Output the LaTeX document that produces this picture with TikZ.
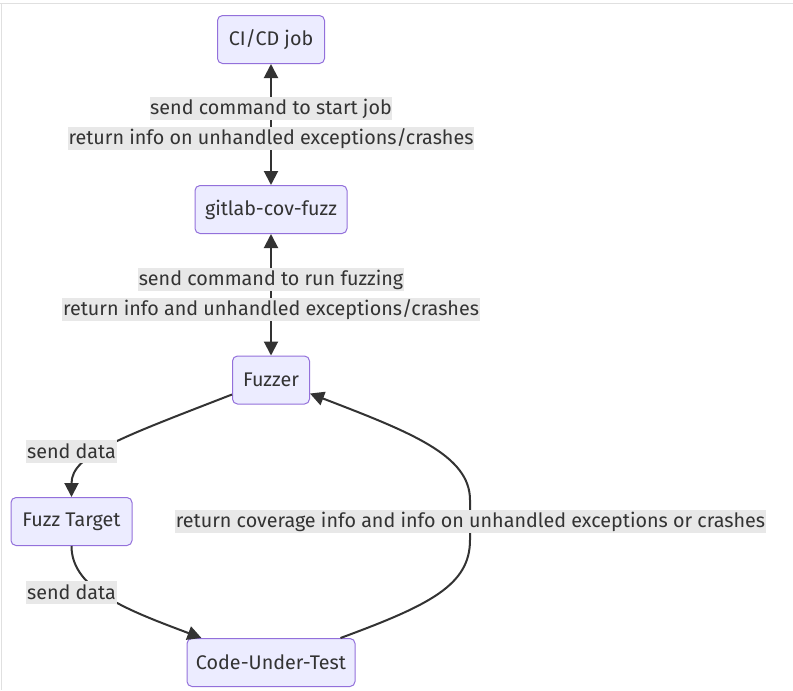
\documentclass[tikz,border=0pt]{standalone}
\usepackage{fontspec}
\setmainfont{Fira Sans}
\usetikzlibrary{arrows.meta,calc}
\definecolor{nodefill}{HTML}{ECECFF}
\definecolor{nodedraw}{HTML}{9370DB}
\definecolor{ink}{HTML}{333333}
\definecolor{lblbg}{HTML}{E8E8E8}
\definecolor{framecol}{HTML}{E0E0E0}
\begin{document}
\begin{tikzpicture}[x=0.75pt,y=-0.75pt,
  box/.style={draw=nodedraw, fill=nodefill, line width=0.75pt, rounded corners=3.75pt, text=ink,
    minimum height=36pt, inner sep=0pt, font=\fontsize{14.8}{16}\selectfont},
  lbl/.style={fill=lblbg, text=ink, inner xsep=0.5pt, inner ysep=0pt, minimum height=17.25pt,
    font=\fontsize{14.8}{16}\selectfont},
  edge/.style={draw=ink, line width=1.5pt},
  tip/.style={-{Triangle[length=10.5pt,width=10.5pt]}},
  twotip/.style={{Triangle[length=10.5pt,width=10.5pt]}-{Triangle[length=10.5pt,width=10.5pt]}},
]
\useasboundingbox (0,0) rectangle (793,690);
\draw[framecol, line width=0.75pt] (0,3) -- (793,3);
\draw[framecol, line width=0.75pt] (1.5,3) -- (1.5,690);

\node[box, minimum width=80.25pt] (cicd) at (271,39.5) {CI/CD job};
\node[box, minimum width=114pt] (gcf) at (271,209.5) {gitlab-cov-fuzz};
\node[box, minimum width=57.75pt] (fuzzer) at (271,380) {Fuzzer};
\node[box, minimum width=90.75pt] (ft) at (71.5,521.5) {Fuzz Target};
\node[box, minimum width=126pt] (cut) at (271,662.5) {Code-Under-Test};

\coordinate (fz1) at ($(fuzzer.south west)+(0,-10)$);
\coordinate (fz2) at ($(fuzzer.south east)+(0,-11)$);
\coordinate (cut1) at ($(cut.north west)+(15,0)$);
\coordinate (cut2) at ($(cut.north east)+(-15,0)$);

\draw[edge, twotip] (cicd) -- (gcf);
\draw[edge, twotip] (gcf) -- (fuzzer);
\draw[edge, tip] (fz1) .. controls (120,438) and (71.5,455) .. (ft.north);
\draw[edge, tip] (ft.south) .. controls (71.5,590) and (130,611) .. (cut1);
\draw[edge, tip] (cut2) .. controls (430,605) and (470,585) .. (470,540)
  -- (470,500) .. controls (470,455) and (410,432) .. (fz2);

\node[lbl] (l1) at (271,108.5) {send command to start job};
\node[lbl] (l2) at (271,138.5) {return info on unhandled exceptions/crashes};
\node[lbl] (l3) at (271,279.5) {send command to run fuzzing};
\node[lbl] (l4) at (271,309.5) {return info and unhandled exceptions/crashes};
\node[lbl] (l5) at (71.5,451.5) {send data};
\node[lbl] (l6) at (71.5,592.5) {send data};
\node[lbl] (l7) at (470.5,521.5) {return coverage info and info on unhandled exceptions or crashes};
\end{tikzpicture}
\end{document}
